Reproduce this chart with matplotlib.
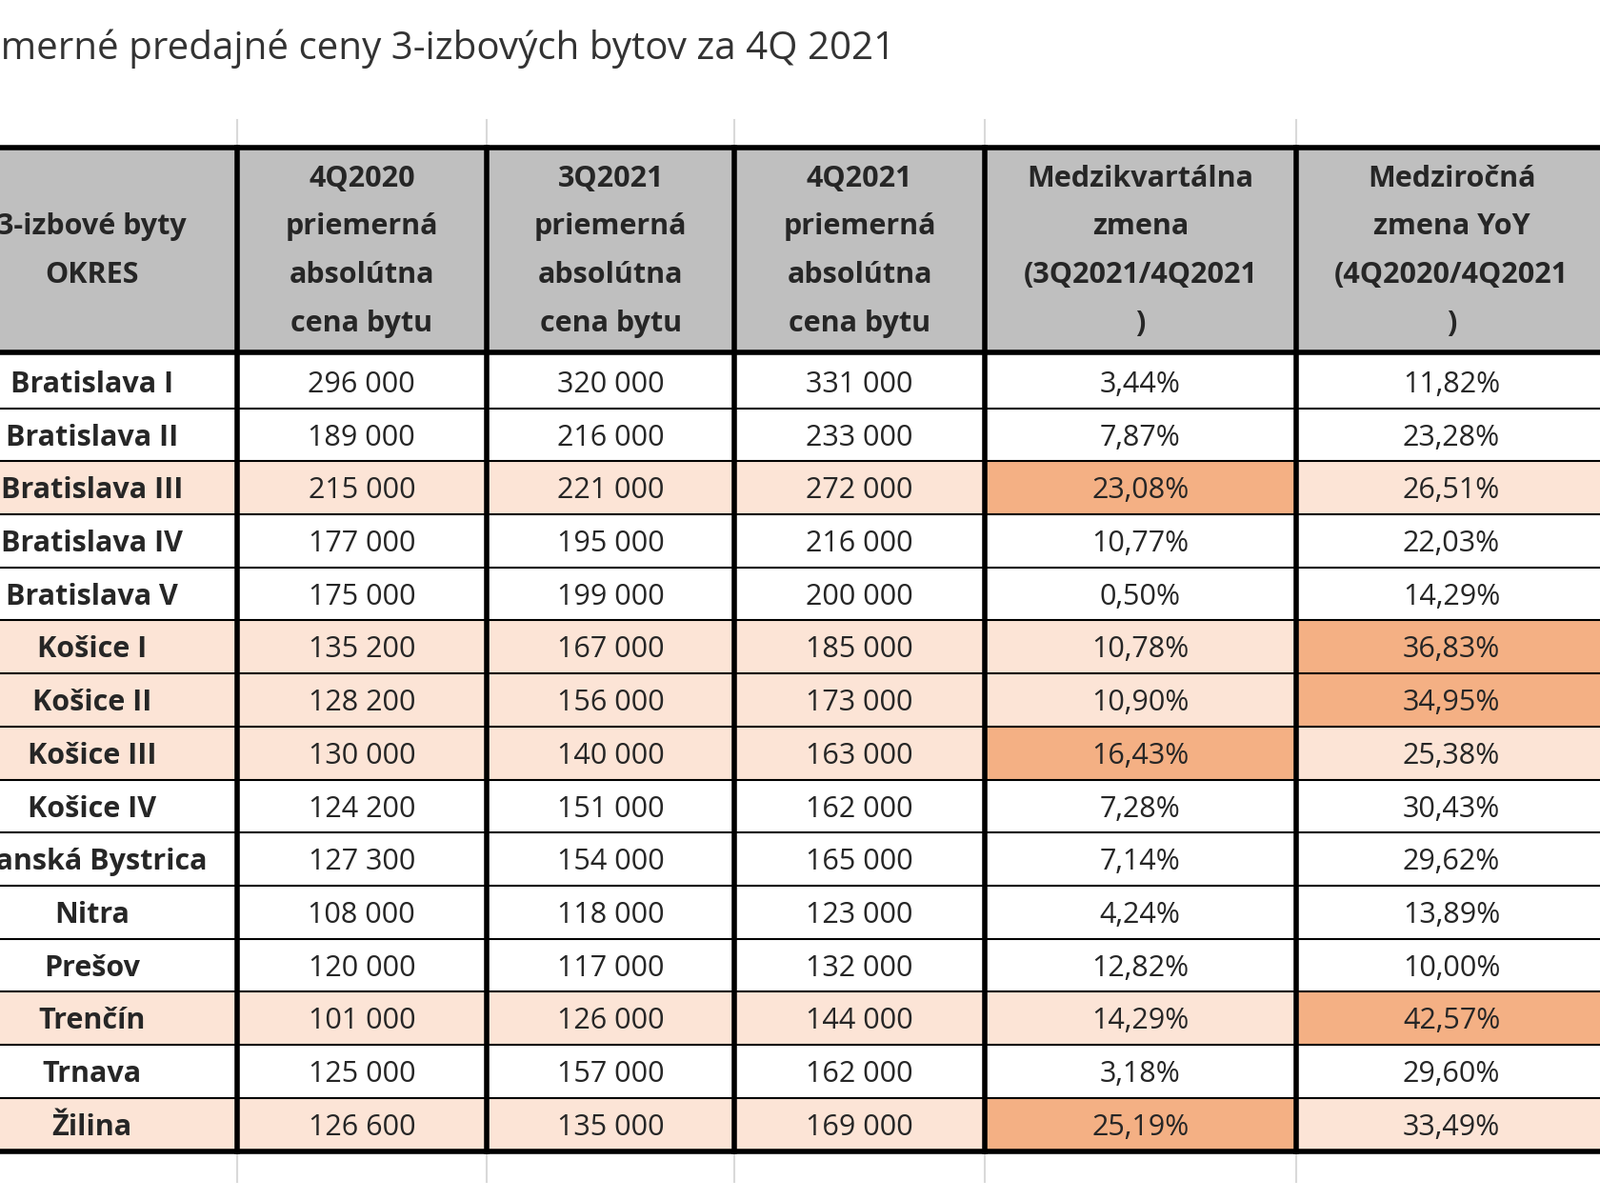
import matplotlib
matplotlib.use("Agg")
import matplotlib.pyplot as plt
from matplotlib.patches import Rectangle

title = "Priemerné predajné ceny 3-izbových bytov za 4Q 2021"
headers = ["3-izbové byty\nOKRES",
           "4Q2020\npriemerná\nabsolútna\ncena bytu",
           "3Q2021\npriemerná\nabsolútna\ncena bytu",
           "4Q2021\npriemerná\nabsolútna\ncena bytu",
           "Medzikvartálna\nzmena\n(3Q2021/4Q2021\n)",
           "Medziročná\nzmena YoY\n(4Q2020/4Q2021\n)"]
districts = ["Bratislava I", "Bratislava II", "Bratislava III", "Bratislava IV", "Bratislava V",
             "Košice I", "Košice II", "Košice III", "Košice IV", "Banská Bystrica",
             "Nitra", "Prešov", "Trenčín", "Trnava", "Žilina"]
price_4q2020 = ["296 000", "189 000", "215 000", "177 000", "175 000", "135 200", "128 200",
                "130 000", "124 200", "127 300", "108 000", "120 000", "101 000", "125 000", "126 600"]
price_3q2021 = ["320 000", "216 000", "221 000", "195 000", "199 000", "167 000", "156 000",
                "140 000", "151 000", "154 000", "118 000", "117 000", "126 000", "157 000", "135 000"]
price_4q2021 = ["331 000", "233 000", "272 000", "216 000", "200 000", "185 000", "173 000",
                "163 000", "162 000", "165 000", "123 000", "132 000", "144 000", "162 000", "169 000"]
qoq = ["3,44%", "7,87%", "23,08%", "10,77%", "0,50%", "10,78%", "10,90%", "16,43%",
       "7,28%", "7,14%", "4,24%", "12,82%", "14,29%", "3,18%", "25,19%"]
yoy = ["11,82%", "23,28%", "26,51%", "22,03%", "14,29%", "36,83%", "34,95%", "25,38%",
       "30,43%", "29,62%", "13,89%", "10,00%", "42,57%", "29,60%", "33,49%"]
# shading codes per row: 0 white, 1 light, 2 strong
shade = ["000000", "000000", "111121", "000000", "000000", "111112", "111112", "111121",
         "000000", "000000", "000000", "000000", "111112", "000000", "111121"]

colors = {"0": "white", "1": "#fce4d6", "2": "#f4b084"}
W, H = 1568, 1176
fig = plt.figure(figsize=(16.8, 12.6), dpi=100)
ax = fig.add_axes([0, 0, 1, 1])
ax.set_xlim(0, W); ax.set_ylim(H, 0); ax.axis("off")

xs = [-55, 232, 477, 720, 965, 1270, 1575]
htop, hbot = 145, 343
r0, rh = 348, 52
nrows = len(districts)
bottom = r0 + rh * nrows
font = "Open Sans"

ax.text(-68, 48, title, fontsize=29, color="#333333", va="center", ha="left", family="Open Sans")

# faint grid lines outside table
for x in xs[1:-1]:
    ax.plot([x, x], [118, htop], color="#d9d9d9", lw=1.5)
    ax.plot([x, x], [bottom, 1158], color="#d9d9d9", lw=1.5)

# header
for c in range(6):
    ax.add_patch(Rectangle((xs[c], htop), xs[c+1]-xs[c], hbot-htop, color="#bfbfbf", lw=0))
    ax.text((xs[c]+xs[c+1])/2 if c else 90, (htop+hbot)/2 + 2, headers[c], ha="center", va="center",
            fontsize=22, fontweight="bold", color="#262626", family=font, linespacing=1.9)

cols = [districts, price_4q2020, price_3q2021, price_4q2021, qoq, yoy]
for r in range(nrows):
    y = r0 + rh * r
    for c in range(6):
        ax.add_patch(Rectangle((xs[c], y), xs[c+1]-xs[c], rh, color=colors[shade[r][c]], lw=0))
        cx = (xs[c]+xs[c+1])/2 if c else 90
        ax.text(cx, y + rh/2 + 3, cols[c][r], ha="center", va="center", fontsize=22,
                color="#262626", family=font, fontweight="bold" if c == 0 else "normal")
    if r > 0:
        ax.plot([xs[0], xs[-1]], [y, y], color="black", lw=1.5)

# thick borders
for x in xs[1:-1]:
    ax.plot([x, x], [htop, bottom], color="black", lw=4)
for y in (htop, hbot + 2, bottom):
    ax.plot([xs[0], xs[-1]], [y, y], color="black", lw=4)

fig.savefig("out.png", dpi=100)
